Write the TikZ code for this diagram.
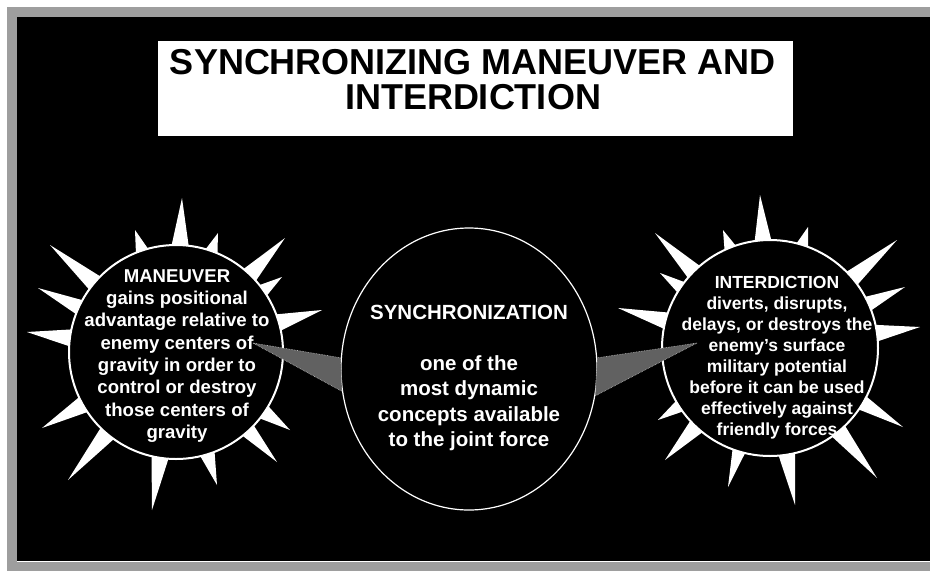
\documentclass[tikz,border=0pt]{standalone}
\usepackage{fontspec}
\setmainfont{Liberation Sans}
\usetikzlibrary{calc,shapes.geometric}
\begin{document}
\begin{tikzpicture}[x=1pt,y=-1pt,
  sunbody/.style={circle, draw=white, line width=2pt, fill=black, inner sep=0pt, minimum size=#1},
  syncbody/.style={ellipse, draw=white, line width=1.2pt, inner sep=0pt, minimum width=256pt, minimum height=282pt},
  wedge/.style={fill=white!38!black, draw=white!75!black, line width=0.6pt, densely dotted},
  suntextL/.style={text=white, font=\bfseries\fontsize{18.6}{22.3}\selectfont, align=center, inner sep=0pt},
  suntextR/.style={text=white, font=\bfseries\fontsize{17.5}{21}\selectfont, align=center, inner sep=0pt},
  synctext/.style={text=white, font=\bfseries\fontsize{20.5}{25.5}\selectfont, align=center, inner sep=0pt},
  titletext/.style={text=black, font=\bfseries\fontsize{36}{35}\selectfont, align=center, inner sep=0pt}
]
\useasboundingbox (0,0) rectangle (930,571);
\fill[white] (0,0) rectangle (930,571);
\fill[white!62!black] (7,7) rectangle (930,571);
\fill[black] (17,17) rectangle (930,561);
\draw[white, line width=0.6pt] (17,561.5) -- (930,561.5);
% title
\fill[white] (158,41) rectangle (793,136);
\node[titletext] (title) at (473,80) {SYNCHRONIZING MANEUVER AND\\INTERDICTION};
% sun centres
\coordinate (Lc) at (176,352);
\coordinate (Rc) at (770,348);
\foreach \tx/\ty/\ha in {182/198/5, 135/230/4, 218/233/4, 50/245/5, 285/238/5, 38/288/4.5, 282/277/4, 322/310/5, 27/332/5, 42/428/5, 290/430/4.5, 68/480/5, 277/462/4.5, 152/510/5, 217/485/4.5}{
  \fill[white] ($(Lc)!104pt!\ha:(\tx,\ty)$) -- (\tx,\ty) -- ($(Lc)!104pt!-\ha:(\tx,\ty)$) -- cycle;
}
\foreach \tx/\ty/\ha in {760/195/5, 723/230/4, 808/227/4, 655/233/5, 897/240/5, 660/273/4, 905/287/4.5, 618/308/5, 920/327/5, 658/420/4, 665/460/5, 903/427/4.5, 877/478/5, 728/487/4, 795/505/5}{
  \fill[white] ($(Rc)!104pt!\ha:(\tx,\ty)$) -- (\tx,\ty) -- ($(Rc)!104pt!-\ha:(\tx,\ty)$) -- cycle;
}
\node[sunbody=214pt] (maneuver) at (Lc) {};
\node[sunbody=216pt] (interdiction) at (Rc) {};
\node[syncbody] (sync) at (469,369) {};
% connectors
\coordinate (lapex) at (253,343);
\coordinate (rapex) at (697,343);
\filldraw[wedge] (lapex) -- (sync.175) -- (sync.190) -- cycle;
\filldraw[wedge] (rapex) -- (sync.5) -- (sync.-12) -- cycle;
% texts
\node[suntextL] (mtext) at (177,356) {MANEUVER\\gains positional\\advantage relative to\\enemy centers of\\gravity in order to\\control or destroy\\those centers of\\gravity};
\node[suntextR] (itext) at (777,358) {INTERDICTION\\diverts, disrupts,\\delays, or destroys the\\enemy's surface\\military potential\\before it can be used\\effectively against\\friendly forces};
\node[synctext] (stext) at (469,378) {SYNCHRONIZATION\\[25.5pt]one of the\\most dynamic\\concepts available\\to the joint force};
\end{tikzpicture}
\end{document}
